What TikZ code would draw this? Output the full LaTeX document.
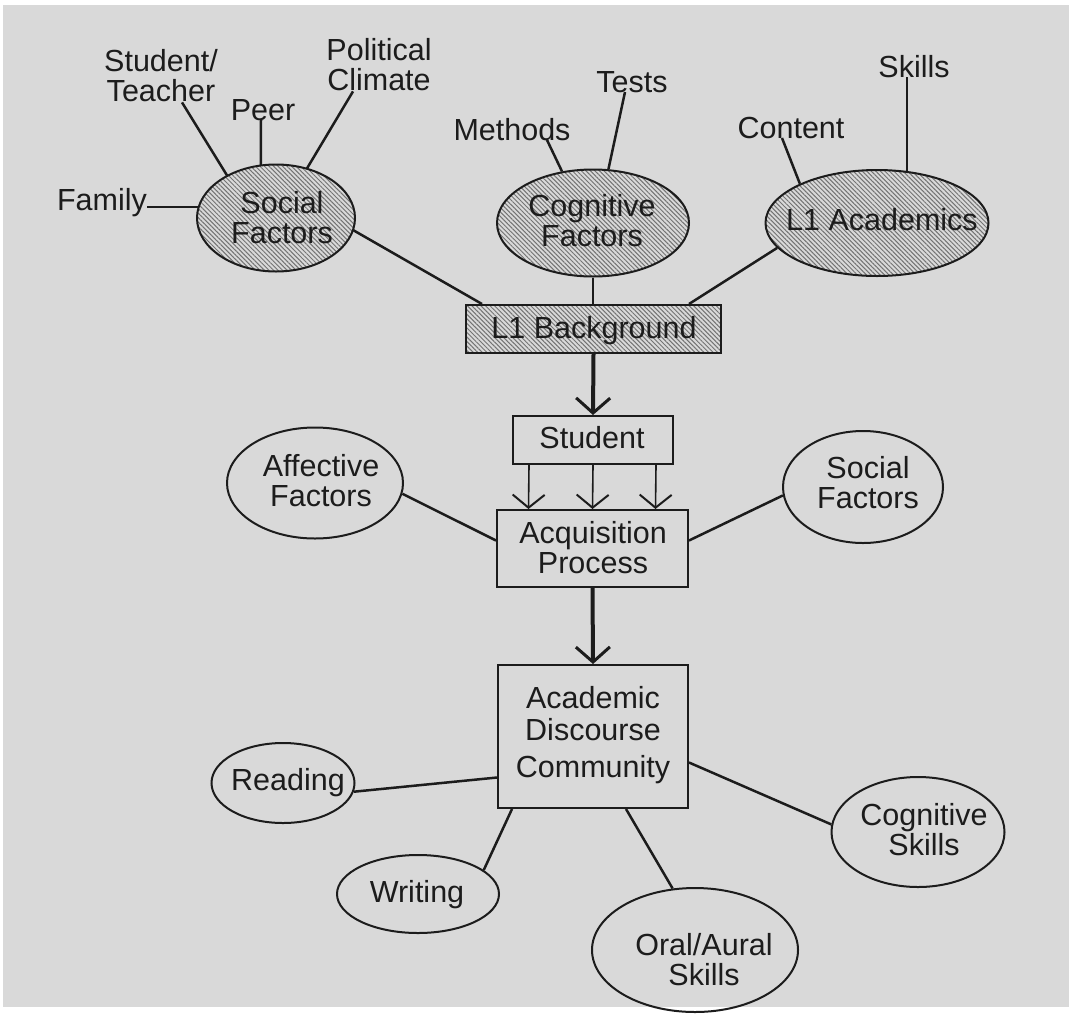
\documentclass[tikz,border=0pt]{standalone}
\usepackage{fontspec}
\setmainfont{Liberation Sans}
\usetikzlibrary{shapes.geometric,arrows.meta,patterns.meta}
\definecolor{paper}{HTML}{D9D9D9}
\definecolor{ink}{HTML}{1C1C1C}
\begin{document}
\begin{tikzpicture}[x=1pt,y=-1pt,
  every node/.style={font=\fontsize{30.5}{30}\selectfont, text=ink, inner sep=0pt},
  lbl/.style={align=center},
  hatch/.style={pattern={Lines[angle=-45,distance=3.2pt,line width=1pt]}, pattern color=black!55},
  hatchell/.style={ellipse, draw=ink, line width=2pt, hatch},
  plainell/.style={ellipse, draw=ink, line width=2pt},
  hatchbox/.style={rectangle, draw=ink, line width=2pt, hatch},
  plainbox/.style={rectangle, draw=ink, line width=2pt},
  conn/.style={draw=ink, line width=2.5pt},
  bigarrow/.style={draw=ink, line width=4pt, -{Straight Barb[length=15pt,width=34pt,line width=3pt]}},
  smallarrow/.style={draw=ink, line width=1.6pt, -{Straight Barb[length=13pt,width=32pt,line width=2pt]}}
]
% page
\fill[white] (0,0) rectangle (1075,1015);
\fill[paper] (3,5) rectangle (1069,1007);
\useasboundingbox (0,0) rectangle (1075,1015);

% ---- L1 background factors ----
\node[hatchell, minimum width=158pt, minimum height=107pt] (soc) at (276,218) {};
\node[lbl] (soc-t) at (282,218) {Social\\Factors};
\node[hatchell, minimum width=192pt, minimum height=107pt] (cogf) at (593,223) {};
\node[lbl] (cogf-t) at (592,221) {Cognitive\\Factors};
\node[hatchell, minimum width=223pt, minimum height=106pt] (l1a) at (877,223) {};
\node[anchor=base] (l1a-t) at (882,230) {L1 Academics};

% outer labels
\node[anchor=base] (fam) at (102,210) {Family};
\node[lbl] (stutea) at (161,76) {Student/\\Teacher};
\node[anchor=base] (peer) at (263,120) {Peer};
\node[lbl] (polcli) at (379,65) {Political\\Climate};
\node[anchor=base] (meth) at (512,140) {Methods};
\node[anchor=base] (tests) at (632,92) {Tests};
\node[anchor=base] (cont) at (791,138) {Content};
\node[anchor=base] (skills) at (914,77) {Skills};

% ---- central column ----
\node[hatchbox, minimum width=255pt, minimum height=48pt] (bg) at (593.5,329) {};
\node[anchor=base] (bg-t) at (594,338) {L1 Background};
\node[plainbox, minimum width=160pt, minimum height=48pt] (stu) at (593,440) {};
\node[anchor=base] (stu-t) at (592,448) {Student};
\node[plainbox, minimum width=191pt, minimum height=77pt] (acq) at (592.5,548.5) {};
\node[lbl] (acq-t) at (593,548) {Acquisition\\Process};
\node[plainbox, minimum width=190pt, minimum height=143pt] (acad) at (593,736.5) {};
\node[lbl, anchor=north] (acad-t) at (593,686) {Academic\\[2pt]Discourse\\[7pt]Community};

% ---- side factors ----
\node[plainell, minimum width=176pt, minimum height=111pt] (aff) at (315,483) {};
\node[lbl] (aff-t) at (321,481) {Affective\\Factors};
\node[plainell, minimum width=160pt, minimum height=112pt] (socr) at (863,487) {};
\node[lbl] (socr-t) at (868,483) {Social\\Factors};

% ---- skills ----
\node[plainell, minimum width=143pt, minimum height=80pt] (read) at (283,783) {};
\node[anchor=base] (read-t) at (288,790) {Reading};
\node[plainell, minimum width=162pt, minimum height=78pt] (writ) at (418,894) {};
\node[anchor=base] (writ-t) at (417,902) {Writing};
\node[plainell, minimum width=206pt, minimum height=124pt] (oral) at (695,950) {};
\node[lbl] (oral-t) at (704,960) {Oral/Aural\\Skills};
\node[plainell, minimum width=173pt, minimum height=110pt] (cogs) at (918,832) {};
\node[lbl] (cogs-t) at (924,830) {Cognitive\\Skills};

% ---- connectors ----
\draw[conn] (soc.172) -- (soc.172 -| fam.east);
\draw[conn] ([xshift=21pt]stutea.south) -- (soc.139);
\draw[conn] ([xshift=-2pt]peer.base) -- (soc.106);
\draw[conn] ([xshift=-26pt]polcli.south) -- (soc.58);
\draw[conn] (soc.-9) -- ([xshift=17pt]bg.north west);
\draw[conn] ([xshift=35pt]meth.base) -- (cogf.121);
\draw[conn] ([xshift=-7pt]tests.base) -- (cogf.74);
\draw[conn] (cogf.south) -- (cogf.south |- bg.north);
\draw[conn] ([xshift=-9pt]cont.base) -- (l1a.153);
\draw[conn] (l1a.60) -- (l1a.60 |- skills.base);
\draw[conn] (l1a.194) -- ([xshift=-33pt]bg.north east);

\draw[bigarrow] (bg.south) -- (stu.north);
\draw[smallarrow] ([xshift=-64pt]stu.south) -- ([xshift=-64pt]acq.north);
\draw[smallarrow] (stu.south) -- (acq.north);
\draw[smallarrow] ([xshift=63pt]stu.south) -- ([xshift=63pt]acq.north);
\draw[conn] (aff.-7) -- ([yshift=8pt]acq.west);
\draw[conn] ([yshift=8pt]acq.east) -- (socr.186);
\draw[bigarrow] (acq.south) -- (acad.north);

\draw[conn] (read.-7) -- ([yshift=-41pt]acad.west);
\draw[conn] (writ.20) -- ([xshift=15pt]acad.south west);
\draw[conn] (oral.110) -- ([xshift=33pt]acad.south);
\draw[conn] ([yshift=-26pt]acad.east) -- (cogs.175);
\end{tikzpicture}
\end{document}
